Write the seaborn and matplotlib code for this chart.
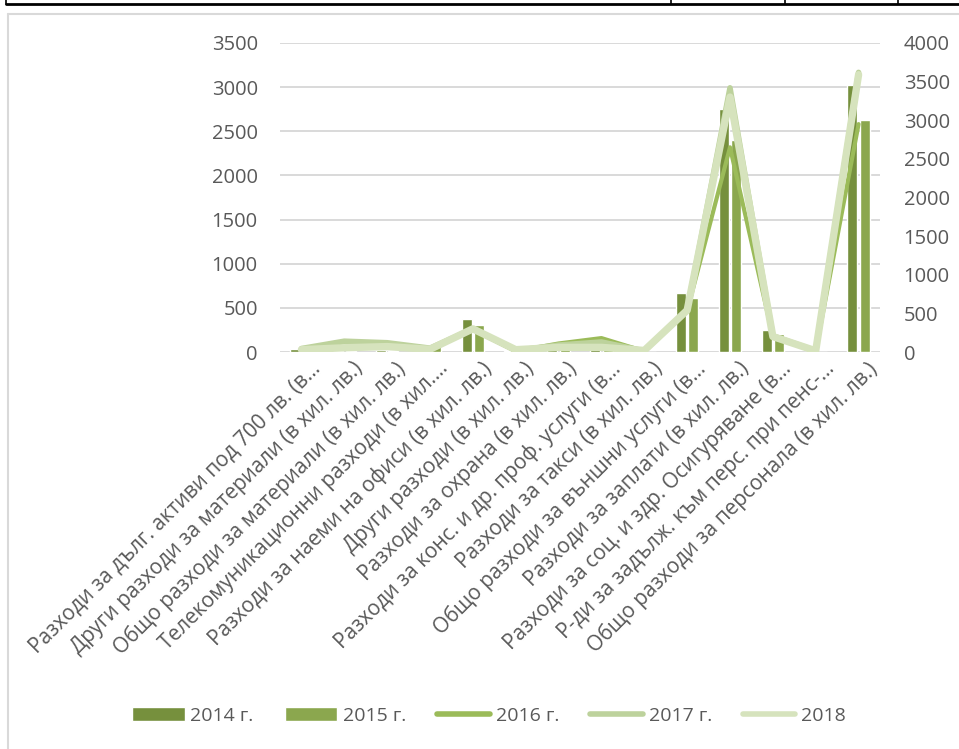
"""Combo chart: expenses by item, bars 2014-2015, lines 2016-2018."""

import numpy as np
import pandas as pd
import matplotlib

matplotlib.use("Agg")
import matplotlib.pyplot as plt
import matplotlib.transforms as mtransforms
from matplotlib.lines import Line2D
from matplotlib.patches import Patch
import seaborn as sns

categories = [
    "Разходи за дълг. активи под 700 лв. (в...",
    "Други разходи за материали (в хил. лв.)",
    "Общо разходи за материали (в хил. лв.)",
    "Телекомуникационни разходи (в хил....",
    "Разходи за наеми на офиси (в хил. лв.)",
    "Други разходи (в хил. лв.)",
    "Разходи за охрана (в хил. лв.)",
    "Разходи за конс. и др. проф. услуги (в...",
    "Разходи за такси (в хил. лв.)",
    "Общо разходи за външни услуги (в...",
    "Разходи за заплати (в хил. лв.)",
    "Разходи за соц. и здр. Осигуряване (в...",
    "Р-ди за задълж. към перс. при пенс-...",
    "Общо разходи за персонала (в хил. лв.)",
]

# bars, left axis
v2014 = [35, 10, 20, 70, 370, 10, 50, 40, 5, 665, 2750, 250, 5, 3025]
v2015 = [10, 10, 15, 75, 305, 10, 45, 35, 5, 610, 2400, 205, 5, 2625]

# lines, right axis
v2016 = [25, 130, 110, 40, 290, 10, 110, 180, 10, 530, 2650, 200, 10, 2950]
v2017 = [45, 140, 120, 50, 300, 20, 90, 130, 15, 540, 3420, 210, 15, 3620]
v2018 = [30, 55, 70, 35, 300, 30, 60, 60, 20, 540, 3300, 200, 15, 3590]

bar_labels = ["2014 г.", "2015 г."]
line_labels = ["2016 г.", "2017 г.", "2018"]
bar_colors = ["#76903d", "#8ba74e"]
line_colors = ["#9bbb59", "#bdd29c", "#d6e3bd"]
line_widths = [3.0, 4.0, 5.3]

left_ticks = list(range(0, 3501, 500))
right_ticks = list(range(0, 4001, 500))

TEXT = "#595959"
GRID = "#d9d9d9"
W, H = 959, 749

sns.set_theme(style="white")
plt.rcParams["font.family"] = ["Open Sans", "DejaVu Sans"]

bars = pd.DataFrame(
    {
        "item": categories * 2,
        "year": [bar_labels[0]] * len(categories) + [bar_labels[1]] * len(categories),
        "value": v2014 + v2015,
    }
)
lines = pd.DataFrame(
    {
        "pos": np.arange(len(categories)),
        line_labels[0]: v2016,
        line_labels[1]: v2017,
        line_labels[2]: v2018,
    }
)

fig = plt.figure(figsize=(W / 100, H / 100), dpi=100)
ax = fig.add_axes([280 / W, 1 - 352 / H, 600 / W, 309 / H])

sns.barplot(
    data=bars,
    x="item",
    y="value",
    hue="year",
    order=categories,
    palette=bar_colors,
    width=0.585,
    gap=0.2,
    saturation=1,
    legend=False,
    ax=ax,
)
ax.set_xlim(-0.5, len(categories) - 0.5)
ax.set_ylim(0, 3500)
ax.set_yticks(left_ticks)
ax.yaxis.grid(True, color=GRID, linewidth=1.4)
ax.set_axisbelow(True)
ax.set_xlabel("")
ax.set_ylabel("")
for s in ax.spines.values():
    s.set_visible(False)
ax.tick_params(axis="y", length=0, pad=16, labelsize=14.5, labelcolor=TEXT)
ax.tick_params(axis="x", length=0, pad=3, labelsize=15, labelcolor=TEXT)
ax.set_xticks(range(len(categories)))
ax.set_xticklabels(categories, rotation=45, ha="right", rotation_mode="anchor")
shift = mtransforms.ScaledTranslation(8 / 100, -2 / 100, fig.dpi_scale_trans)
for lab in ax.get_xticklabels():
    lab.set_transform(lab.get_transform() + shift)

ax2 = ax.twinx()
for name, c, lw in zip(line_labels, line_colors, line_widths):
    sns.lineplot(
        data=lines,
        x="pos",
        y=name,
        color=c,
        linewidth=lw,
        solid_joinstyle="round",
        solid_capstyle="round",
        ax=ax2,
    )
ax2.set_ylim(0, 4000)
ax2.set_yticks(right_ticks)
ax2.set_ylabel("")
ax2.set_xlabel("")
for s in ax2.spines.values():
    s.set_visible(False)
ax2.tick_params(axis="y", length=0, pad=17, labelsize=14.5, labelcolor=TEXT)
ax2.grid(False)

handles = [Patch(facecolor=c, label=l) for c, l in zip(bar_colors, bar_labels)]
handles += [
    Line2D([0], [0], color=c, linewidth=4, solid_capstyle="round", label=l)
    for c, l in zip(line_colors, line_labels)
]
leg = fig.legend(
    handles=handles,
    loc="center",
    bbox_to_anchor=(0.51, 1 - 716 / H),
    ncol=5,
    frameon=False,
    fontsize=14,
    handlelength=2.7,
    handletextpad=0.3,
    columnspacing=1.6,
)
for t in leg.get_texts():
    t.set_color(TEXT)

# chart frame and the table line above it
fig.add_artist(Line2D([8 / W, 1], [1 - 14 / H] * 2, color=GRID, linewidth=1.5))
fig.add_artist(Line2D([8 / W, 8 / W], [0, 1 - 14 / H], color=GRID, linewidth=1.5))
fig.add_artist(Line2D([6 / W, 1], [1 - 4 / H] * 2, color="black", linewidth=2))
for x in [6, 671, 785, 898]:
    fig.add_artist(Line2D([x / W] * 2, [1 - 4 / H, 1], color="black", linewidth=1.2))

fig.savefig("out.png", dpi=100)
